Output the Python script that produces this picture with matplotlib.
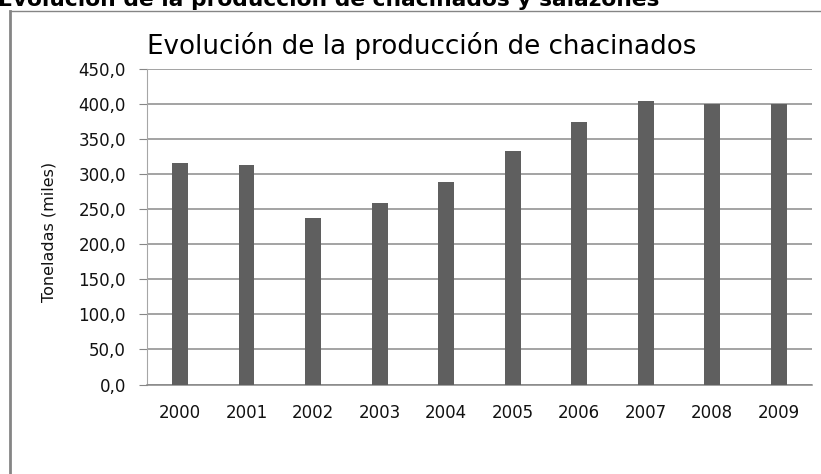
import matplotlib.pyplot as plt
from matplotlib.lines import Line2D
from matplotlib.ticker import FuncFormatter

# datos de produccion (miles de toneladas)
years = ['2000', '2001', '2002', '2003', '2004', '2005', '2006', '2007', '2008', '2009']
toneladas = [315, 313, 237, 258, 288, 333, 374, 404, 400, 400]
yticks = [0, 50, 100, 150, 200, 250, 300, 350, 400, 450]

W, H = 821, 474
fig = plt.figure(figsize=(W / 100, H / 100), dpi=100)
ax = fig.add_axes([146.7 / W, 1 - 384.5 / H, (812 - 146.7) / W, (384.5 - 68.5) / H])

x = range(len(years))
ax.bar(x, toneladas, width=0.24, color='#5f5f5f', zorder=3)

ax.set_xlim(-0.5, len(years) - 0.5)
ax.set_ylim(0, 450)
ax.set_yticks(yticks)
ax.yaxis.set_major_formatter(FuncFormatter(lambda v, p: f'{v:.1f}'.replace('.', ',')))
ax.set_xticks(list(x))
ax.set_xticklabels(years)

ax.grid(axis='y', color='#8a8a8a', linewidth=1.1, zorder=0)
for s in ['top', 'right']:
    ax.spines[s].set_visible(False)
ax.spines['left'].set_color('#a6a6a6')
ax.spines['bottom'].set_color('#868686')
ax.spines['bottom'].set_linewidth(1.1)

ax.tick_params(axis='y', length=6, color='#868686', pad=9, labelsize=12, labelcolor='#111111')
ax.tick_params(axis='x', length=0, pad=14, labelsize=12, labelcolor='#111111')

fig.text(49 / W, 1 - 232 / H, 'Toneladas (miles)', rotation=90, ha='center', va='center',
         fontsize=11.5, color='#111111')
fig.text(422 / W, 1 - 46 / H, 'Evolución de la producción de chacinados', ha='center', va='center',
         fontsize=18.8)

# titulo de la pagina, recortado arriba
fig.text(-2 / W, 1 - 6.5 / H, 'Evolución de la producción de chacinados y salazones', ha='left',
         va='baseline', fontsize=15.7, fontweight='bold')

# marco
fig.add_artist(Line2D([9.5 / W, 9.5 / W], [0, 1 - 10.5 / H], color='#858585', linewidth=2))
fig.add_artist(Line2D([9.5 / W, 1], [1 - 10.5 / H, 1 - 10.5 / H], color='#858585', linewidth=1))

plt.savefig('out.png', dpi=100)
